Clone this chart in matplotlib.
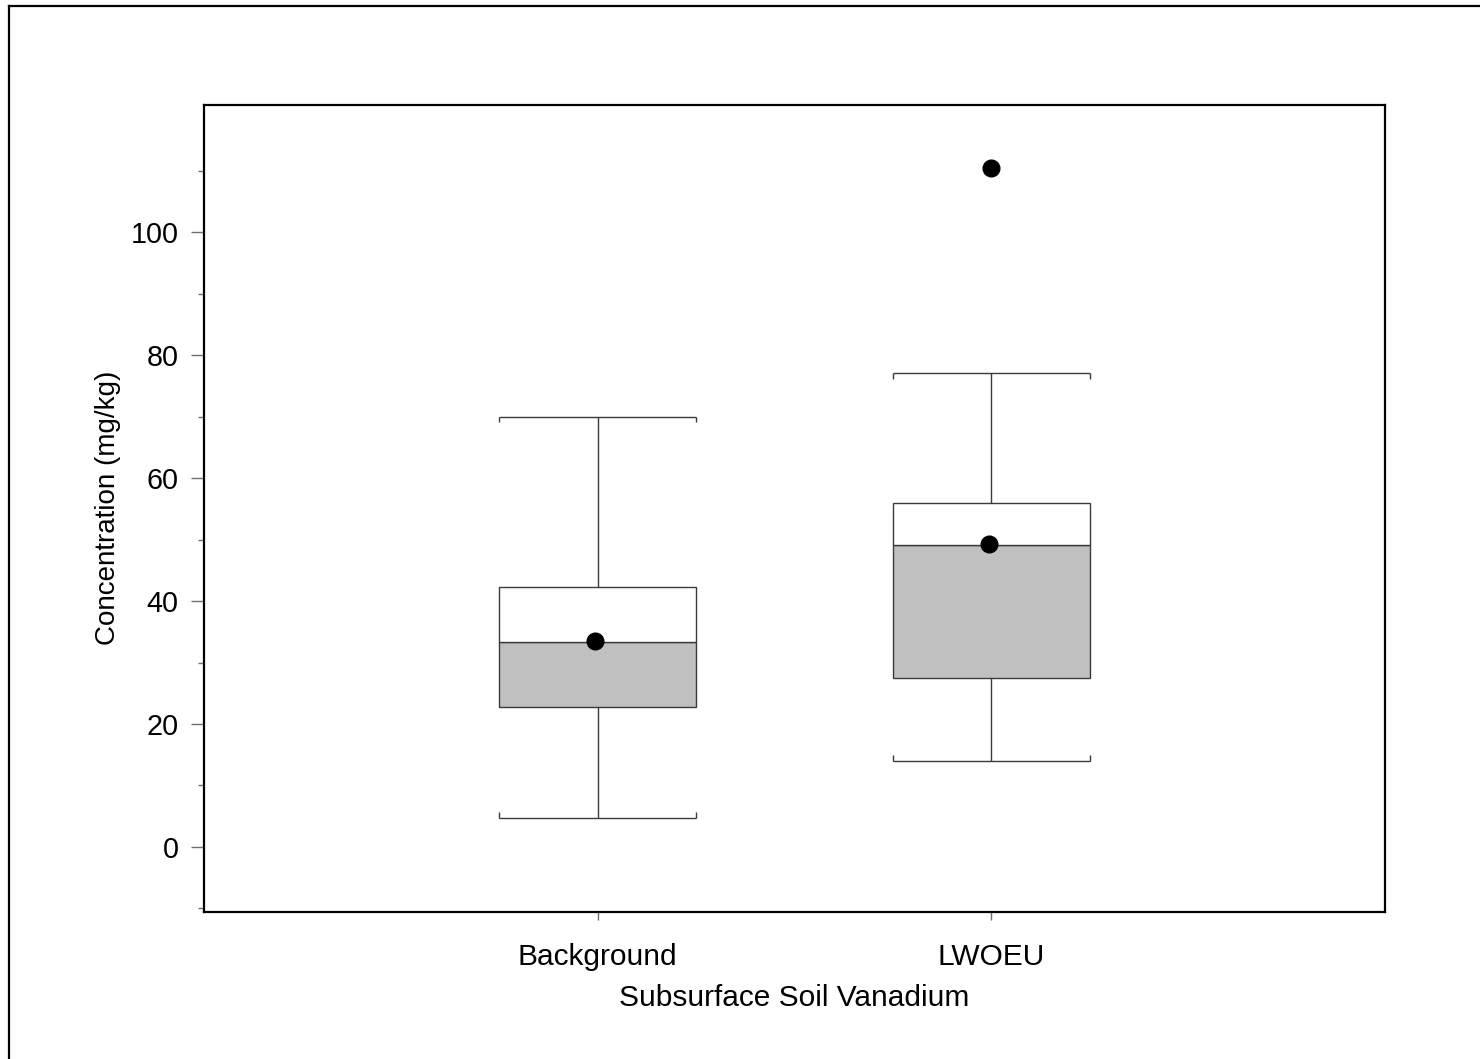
import matplotlib
matplotlib.use("Agg")
import matplotlib.pyplot as plt
from matplotlib.lines import Line2D

plt.rcParams['font.family'] = ['Liberation Sans', 'DejaVu Sans']

# Summary statistics per group (mg/kg)
categories = ["Background", "LWOEU"]
whisker_low = [4.7, 14.0]
q1 = [22.8, 27.5]
median = [33.3, 49.1]
q3 = [42.3, 55.9]
whisker_high = [70.0, 77.1]
means = [33.5, 49.3]
outlier_groups = [[], [110.4]]

positions = [1, 2]
box_width = 0.5
line_col = "#3a3a3a"

fig = plt.figure(figsize=(14.8, 10.59), dpi=100)
ax = fig.add_axes([0.1378, 0.1388, 0.7980, 0.7625])

for i, x in enumerate(positions):
    # lower half of box (Q1 to median) shaded, upper half (median to Q3) white
    ax.bar(x, median[i] - q1[i], bottom=q1[i], width=box_width,
           color="#c0c0c0", edgecolor=line_col, linewidth=1.0, zorder=2)
    ax.bar(x, q3[i] - median[i], bottom=median[i], width=box_width,
           color="white", edgecolor=line_col, linewidth=1.0, zorder=2)
    # whiskers
    ax.vlines(x, q3[i], whisker_high[i], color=line_col, linewidth=1.0, zorder=1)
    ax.vlines(x, whisker_low[i], q1[i], color=line_col, linewidth=1.0, zorder=1)
    # caps with small end ticks pointing toward the box
    half = box_width / 2
    ax.hlines([whisker_high[i], whisker_low[i]], x - half, x + half,
              color=line_col, linewidth=1.0, zorder=1)
    for xe in (x - half, x + half):
        ax.vlines(xe, whisker_high[i] - 0.9, whisker_high[i], color=line_col, linewidth=1.0)
        ax.vlines(xe, whisker_low[i], whisker_low[i] + 0.9, color=line_col, linewidth=1.0)
    # mean
    ax.plot(x - 0.006, means[i], 'o', color='black', markersize=12, zorder=4)
    # outliers
    for v in outlier_groups[i]:
        ax.plot(x, v, 'o', color='black', markersize=12, zorder=4)

ax.set_xlim(0, 3)
ax.set_ylim(-10.6, 120.8)
ax.set_xticks(positions)
ax.set_xticklabels(categories)
ax.set_yticks([0, 20, 40, 60, 80, 100])
ax.set_yticks(list(range(-10, 120, 20)), minor=True)

ax.tick_params(axis='y', which='major', length=9.4, width=1.0, color='#707070',
               labelsize=20.7, pad=9)
ax.tick_params(axis='y', which='minor', length=4.3, width=1.0, color='#707070')
ax.tick_params(axis='x', which='major', length=6, width=1.0, color='#707070',
               labelsize=21.5, pad=16)

for s in ax.spines.values():
    s.set_linewidth(1.6)
    s.set_color('black')

ax.set_xlabel("Subsurface Soil Vanadium", fontsize=21.5, labelpad=10)
ax.set_ylabel("Concentration (mg/kg)", fontsize=20, labelpad=6.5)

# outer page frame along top and left edges
fig.add_artist(Line2D([8.5 / 1480, 1.0], [1 - 5.5 / 1059, 1 - 5.5 / 1059],
                      transform=fig.transFigure, color='black', linewidth=1.6))
fig.add_artist(Line2D([8.5 / 1480, 8.5 / 1480], [0.0, 1 - 5.5 / 1059],
                      transform=fig.transFigure, color='black', linewidth=1.6))

fig.savefig("out.png", dpi=100)
